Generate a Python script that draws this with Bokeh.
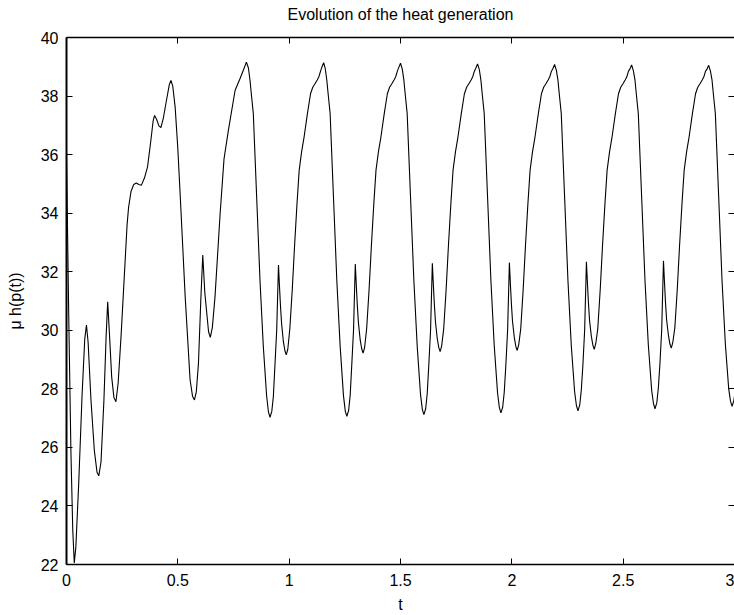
from bokeh.plotting import figure
from bokeh.models import LinearAxis, FixedTicker, Range1d, CustomLabelingPolicy
from bokeh.embed import file_html
from bokeh.resources import INLINE

# ---- data ----
t_values = [
    0.000, 0.010, 0.020, 0.028, 0.035, 0.042, 0.055, 0.070, 0.082, 0.0896,
    0.097, 0.110, 0.125, 0.137, 0.145, 0.155, 0.168, 0.178, 0.185, 0.192,
    0.203, 0.213, 0.222, 0.232, 0.245, 0.260, 0.272, 0.279, 0.290, 0.302,
    0.3135, 0.325, 0.336, 0.350, 0.364, 0.379, 0.389, 0.3955, 0.405, 0.415,
    0.424, 0.435, 0.450, 0.462, 0.469, 0.477, 0.488, 0.500, 0.511, 0.533,
    0.555, 0.566, 0.5746, 0.583, 0.5926, 0.603, 0.612, 0.621, 0.630, 0.638,
    0.646, 0.655, 0.667, 0.690, 0.7075, 0.727, 0.757, 0.779, 0.795, 0.808,
    # period 1
    0.817, 0.824, 0.831, 0.839, 0.854, 0.869, 0.884, 0.899, 0.907, 0.914,
    0.922, 0.929, 0.936, 0.944, 0.952, 0.957, 0.961, 0.966, 0.974, 0.981,
    0.987, 0.994, 1.003, 1.014, 1.024, 1.035, 1.045, 1.056, 1.067, 1.082,
    1.096, 1.106, 1.116, 1.126, 1.133, 1.141, 1.147, 1.155,
    # period 2
    1.162, 1.169, 1.176, 1.184, 1.199, 1.214, 1.229, 1.244, 1.252, 1.259,
    1.267, 1.274, 1.281, 1.289, 1.297, 1.302, 1.306, 1.311, 1.319, 1.326,
    1.332, 1.339, 1.348, 1.359, 1.369, 1.380, 1.390, 1.401, 1.412, 1.427,
    1.441, 1.451, 1.461, 1.471, 1.478, 1.486, 1.492, 1.500,
    # period 3
    1.508, 1.515, 1.522, 1.530, 1.545, 1.560, 1.575, 1.590, 1.598, 1.605,
    1.613, 1.620, 1.627, 1.635, 1.643, 1.648, 1.652, 1.657, 1.665, 1.672,
    1.678, 1.685, 1.694, 1.705, 1.715, 1.726, 1.736, 1.747, 1.758, 1.773,
    1.787, 1.797, 1.807, 1.817, 1.824, 1.832, 1.838, 1.846,
    # period 4
    1.854, 1.861, 1.868, 1.876, 1.891, 1.906, 1.921, 1.936, 1.944, 1.951,
    1.959, 1.966, 1.973, 1.981, 1.989, 1.994, 1.998, 2.003, 2.011, 2.018,
    2.024, 2.031, 2.040, 2.051, 2.061, 2.072, 2.082, 2.093, 2.104, 2.119,
    2.133, 2.143, 2.153, 2.163, 2.170, 2.178, 2.184, 2.192,
    # period 5
    2.200, 2.207, 2.214, 2.222, 2.237, 2.252, 2.267, 2.282, 2.290, 2.297,
    2.305, 2.312, 2.319, 2.327, 2.335, 2.340, 2.344, 2.349, 2.357, 2.364,
    2.370, 2.377, 2.386, 2.397, 2.407, 2.418, 2.428, 2.439, 2.450, 2.465,
    2.479, 2.489, 2.499, 2.509, 2.516, 2.524, 2.530, 2.538,
    # period 6
    2.546, 2.553, 2.560, 2.568, 2.583, 2.598, 2.613, 2.628, 2.636, 2.643,
    2.651, 2.658, 2.665, 2.673, 2.681, 2.686, 2.690, 2.695, 2.703, 2.710,
    2.716, 2.723, 2.732, 2.743, 2.753, 2.764, 2.774, 2.785, 2.796, 2.811,
    2.825, 2.835, 2.845, 2.855, 2.862, 2.870, 2.876, 2.884,
    # last descent
    2.892, 2.899, 2.906, 2.914, 2.929, 2.944, 2.959, 2.974, 2.982, 2.989,
    2.997, 3.000,
]

heat_values = [
    36.0, 30.5, 25.8, 23.2, 22.05, 22.6, 24.8, 27.8, 29.7, 30.18,
    29.6, 27.6, 25.9, 25.15, 25.03, 25.5, 27.6, 29.8, 30.97, 30.0,
    28.4, 27.7, 27.56, 28.2, 29.8, 31.9, 33.6, 34.21, 34.75, 34.98,
    35.03, 34.98, 34.95, 35.2, 35.58, 36.49, 37.15, 37.34, 37.2, 36.98,
    36.92, 37.25, 37.9, 38.4, 38.53, 38.35, 37.62, 36.2, 34.56, 31.15,
    28.31, 27.75, 27.62, 27.9, 28.87, 31.0, 32.57, 31.3, 30.58, 29.95,
    29.76, 30.1, 31.15, 33.99, 35.86, 36.83, 38.19, 38.59, 38.9, 39.16,
    # period 1
    38.96, 38.55, 38.0, 37.4, 34.55, 31.7, 29.44, 27.74, 27.21, 27.03,
    27.23, 27.74, 28.8, 30.0, 32.23, 31.43, 30.83, 30.23, 29.61, 29.30,
    29.16, 29.36, 30.05, 31.4, 32.85, 34.3, 35.47, 36.1, 36.6, 37.4,
    38.08, 38.3, 38.42, 38.55, 38.65, 38.85, 38.99, 39.14,
    # period 2
    38.94, 38.55, 38.0, 37.4, 34.55, 31.7, 29.45, 27.76, 27.24, 27.06,
    27.26, 27.77, 28.8, 30.0, 32.26, 31.46, 30.86, 30.26, 29.67, 29.36,
    29.22, 29.42, 30.05, 31.4, 32.85, 34.3, 35.47, 36.1, 36.6, 37.4,
    38.08, 38.3, 38.42, 38.55, 38.65, 38.85, 38.97, 39.12,
    # period 3
    38.92, 38.55, 38.0, 37.4, 34.55, 31.7, 29.46, 27.8, 27.3, 27.12,
    27.32, 27.83, 28.8, 30.0, 32.29, 31.49, 30.89, 30.29, 29.72, 29.41,
    29.27, 29.47, 30.05, 31.4, 32.85, 34.3, 35.47, 36.1, 36.6, 37.4,
    38.08, 38.3, 38.42, 38.55, 38.65, 38.85, 38.95, 39.10,
    # period 4
    38.9, 38.55, 38.0, 37.4, 34.55, 31.7, 29.47, 27.85, 27.36, 27.18,
    27.38, 27.89, 28.8, 30.0, 32.31, 31.51, 30.91, 30.31, 29.76, 29.45,
    29.31, 29.51, 30.05, 31.4, 32.85, 34.3, 35.47, 36.1, 36.6, 37.4,
    38.08, 38.3, 38.42, 38.55, 38.65, 38.85, 38.93, 39.08,
    # period 5
    38.88, 38.55, 38.0, 37.4, 34.55, 31.7, 29.48, 27.9, 27.43, 27.25,
    27.45, 27.96, 28.8, 30.0, 32.34, 31.54, 30.94, 30.34, 29.8, 29.49,
    29.35, 29.55, 30.05, 31.4, 32.85, 34.3, 35.47, 36.1, 36.6, 37.4,
    38.08, 38.3, 38.42, 38.55, 38.65, 38.85, 38.92, 39.06,
    # period 6
    38.86, 38.55, 38.0, 37.4, 34.55, 31.7, 29.5, 27.95, 27.5, 27.32,
    27.52, 28.03, 28.85, 30.0, 32.37, 31.57, 30.97, 30.37, 29.84, 29.53,
    29.39, 29.59, 30.08, 31.4, 32.85, 34.3, 35.47, 36.1, 36.6, 37.4,
    38.08, 38.3, 38.42, 38.55, 38.65, 38.85, 38.91, 39.05,
    # last descent
    38.85, 38.55, 38.0, 37.4, 34.55, 31.7, 29.52, 28.0, 27.58, 27.40,
    27.6, 27.75,
]

x_ticks = [0, 0.5, 1, 1.5, 2, 2.5, 3]
x_tick_labels = ["0", "0.5", "1", "1.5", "2", "2.5", "3"]
y_ticks = [22, 24, 26, 28, 30, 32, 34, 36, 38, 40]

title_text = "Evolution of the heat generation"
x_label = "t"
y_label = "\u03bc h(p(t))"

FONT = "Liberation Sans"

p = figure(width=734, height=615, output_backend="svg", toolbar_location=None,
           x_range=Range1d(0, 3), y_range=Range1d(22, 40),
           min_border_left=66, min_border_right=0, min_border_top=37,
           min_border_bottom=50, title=title_text)
p.outline_line_color = None
p.background_fill_color = "white"
p.border_fill_color = "white"
p.xgrid.visible = False
p.ygrid.visible = False

p.title.align = "center"
p.title.text_font = FONT
p.title.text_font_size = "16px"
p.title.text_font_style = "normal"
p.title.text_color = "black"
p.title.standoff = 3

overrides = {}
for v, lab in zip(x_ticks, x_tick_labels):
    key = int(v) if float(v).is_integer() else v
    overrides[key] = lab

no_labels = CustomLabelingPolicy(code="return new Set()")


def style_axis(ax, ticks, labels=True):
    ax.ticker = FixedTicker(ticks=ticks)
    ax.major_tick_in = 6
    ax.major_tick_out = 0
    ax.minor_tick_in = 0
    ax.minor_tick_out = 0
    ax.major_tick_line_color = "black"
    ax.major_tick_line_width = 1
    ax.axis_line_color = "black"
    ax.axis_line_width = 1.5
    ax.major_label_text_font = FONT
    ax.major_label_text_color = "black"
    if labels:
        ax.major_label_text_font_size = "16px"
    else:
        ax.major_label_text_font_size = "0px"
        ax.major_label_standoff = 0
        ax.major_label_policy = no_labels


xa = p.xaxis[0]
style_axis(xa, x_ticks)
xa.major_label_overrides = overrides
xa.major_label_standoff = 9
xa.axis_label = x_label
xa.axis_label_text_font = FONT
xa.axis_label_text_font_size = "16px"
xa.axis_label_text_font_style = "normal"
xa.axis_label_text_color = "black"
xa.axis_label_standoff = 7

ya = p.yaxis[0]
style_axis(ya, y_ticks)
ya.axis_line_width = 2
ya.major_label_standoff = 8
ya.axis_label = y_label
ya.axis_label_text_font = FONT
ya.axis_label_text_font_size = "16px"
ya.axis_label_text_font_style = "normal"
ya.axis_label_text_color = "black"
ya.axis_label_standoff = 14

# mirrored ticks on the top border
top_axis = LinearAxis()
style_axis(top_axis, x_ticks, labels=False)
p.add_layout(top_axis, "above")

# invisible spacer panel that lifts the title above the frame
spacer_axis = LinearAxis()
style_axis(spacer_axis, x_ticks, labels=False)
spacer_axis.major_tick_in = 0
spacer_axis.major_tick_out = 13
spacer_axis.major_tick_line_alpha = 0
spacer_axis.axis_line_alpha = 0
p.add_layout(spacer_axis, "above")

# mirrored ticks on the right border
right_axis = LinearAxis()
style_axis(right_axis, y_ticks, labels=False)
right_axis.axis_line_alpha = 0
p.add_layout(right_axis, "right")

p.line(t_values, heat_values, line_color="black", line_width=1.1)

open("out.html", "w").write(file_html(p, INLINE))
